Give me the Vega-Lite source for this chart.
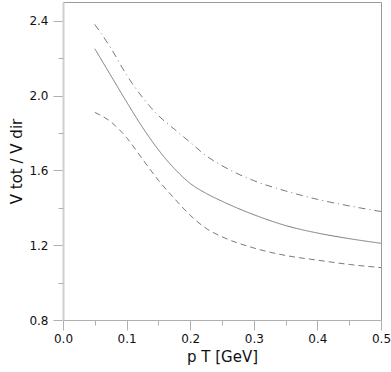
{
  "$schema": "https://vega.github.io/schema/vega-lite/v6.json",
  "width": 318,
  "height": 318,
  "autosize": {"type": "none"},
  "padding": {"left": 63, "top": 2, "right": 10, "bottom": 52},
  "background": "white",
  "config": {
    "view": {"stroke": "#9a9a9a", "strokeWidth": 1},
    "font": "DejaVu Sans",
    "axis": {"grid": false, "labelFont": "DejaVu Sans", "titleFont": "DejaVu Sans", "labelColor": "#111", "titleColor": "#111", "tickColor": "#b0b0b0", "labelFontSize": 12, "titleFontSize": 15, "titleFontWeight": "normal"}
  },
  "data": {
    "values": [
      {"pt": 0.05, "v": 2.25, "s": "mid"},
      {"pt": 0.075, "v": 2.108, "s": "mid"},
      {"pt": 0.1, "v": 1.966, "s": "mid"},
      {"pt": 0.125, "v": 1.83, "s": "mid"},
      {"pt": 0.15, "v": 1.71, "s": "mid"},
      {"pt": 0.175, "v": 1.61, "s": "mid"},
      {"pt": 0.2, "v": 1.53, "s": "mid"},
      {"pt": 0.225, "v": 1.477, "s": "mid"},
      {"pt": 0.25, "v": 1.435, "s": "mid"},
      {"pt": 0.275, "v": 1.397, "s": "mid"},
      {"pt": 0.3, "v": 1.363, "s": "mid"},
      {"pt": 0.35, "v": 1.305, "s": "mid"},
      {"pt": 0.4, "v": 1.265, "s": "mid"},
      {"pt": 0.45, "v": 1.235, "s": "mid"},
      {"pt": 0.5, "v": 1.21, "s": "mid"},
      {"pt": 0.05, "v": 2.38, "s": "up"},
      {"pt": 0.075, "v": 2.255, "s": "up"},
      {"pt": 0.1, "v": 2.11, "s": "up"},
      {"pt": 0.125, "v": 1.99, "s": "up"},
      {"pt": 0.15, "v": 1.893, "s": "up"},
      {"pt": 0.175, "v": 1.82, "s": "up"},
      {"pt": 0.2, "v": 1.75, "s": "up"},
      {"pt": 0.225, "v": 1.678, "s": "up"},
      {"pt": 0.25, "v": 1.625, "s": "up"},
      {"pt": 0.3, "v": 1.545, "s": "up"},
      {"pt": 0.35, "v": 1.49, "s": "up"},
      {"pt": 0.4, "v": 1.445, "s": "up"},
      {"pt": 0.45, "v": 1.41, "s": "up"},
      {"pt": 0.5, "v": 1.38, "s": "up"},
      {"pt": 0.05, "v": 1.91, "s": "low"},
      {"pt": 0.075, "v": 1.86, "s": "low"},
      {"pt": 0.1, "v": 1.775, "s": "low"},
      {"pt": 0.125, "v": 1.66, "s": "low"},
      {"pt": 0.15, "v": 1.547, "s": "low"},
      {"pt": 0.175, "v": 1.45, "s": "low"},
      {"pt": 0.2, "v": 1.36, "s": "low"},
      {"pt": 0.225, "v": 1.29, "s": "low"},
      {"pt": 0.25, "v": 1.245, "s": "low"},
      {"pt": 0.3, "v": 1.185, "s": "low"},
      {"pt": 0.35, "v": 1.145, "s": "low"},
      {"pt": 0.4, "v": 1.12, "s": "low"},
      {"pt": 0.45, "v": 1.097, "s": "low"},
      {"pt": 0.5, "v": 1.08, "s": "low"}
    ]
  },
  "layer": [
    {
      "mark": {"type": "line", "color": "#7a7a7a", "strokeWidth": 1, "interpolate": "monotone"},
      "encoding": {
        "x": {"field": "pt", "type": "quantitative", "scale": {"domain": [0, 0.5], "nice": false, "zero": false},
          "axis": {"orient": "bottom", "values": [0, 0.1, 0.2, 0.3, 0.4, 0.5], "format": ".1f", "tickSize": 10, "labelPadding": 3, "domainColor": "#b0b0b0", "domainWidth": 1, "title": "p T [GeV]", "titlePadding": 5, "labelFlush": false}},
        "y": {"field": "v", "type": "quantitative", "scale": {"domain": [0.8, 2.5], "nice": false, "zero": false},
          "axis": {"orient": "left", "values": [0.8, 1.2, 1.6, 2.0, 2.4], "format": ".1f", "tickSize": 10, "labelPadding": 5, "domainColor": "#d0d0d0", "domainWidth": 2, "title": "V tot / V dir", "titlePadding": 4, "labelFlush": false}},
        "detail": {"field": "s", "type": "nominal"},
        "strokeDash": {"field": "s", "type": "nominal", "legend": null,
          "scale": {"domain": ["mid", "up", "low"], "range": [[1, 0], [7, 4, 1, 4], [6, 4]]}}
      }
    },
    {
      "mark": {"type": "line", "strokeOpacity": 0},
      "encoding": {
        "x": {"field": "pt", "type": "quantitative",
          "axis": {"orient": "bottom", "values": [0.05, 0.15, 0.25, 0.35, 0.45], "tickSize": 5, "labels": false, "domain": false, "title": null}},
        "y": {"field": "v", "type": "quantitative",
          "axis": {"orient": "left", "values": [1.0, 1.4, 1.8, 2.2], "tickSize": 5, "labels": false, "domain": false, "title": null}},
        "detail": {"field": "s", "type": "nominal"}
      }
    }
  ],
  "resolve": {"axis": {"x": "independent", "y": "independent"}}
}
